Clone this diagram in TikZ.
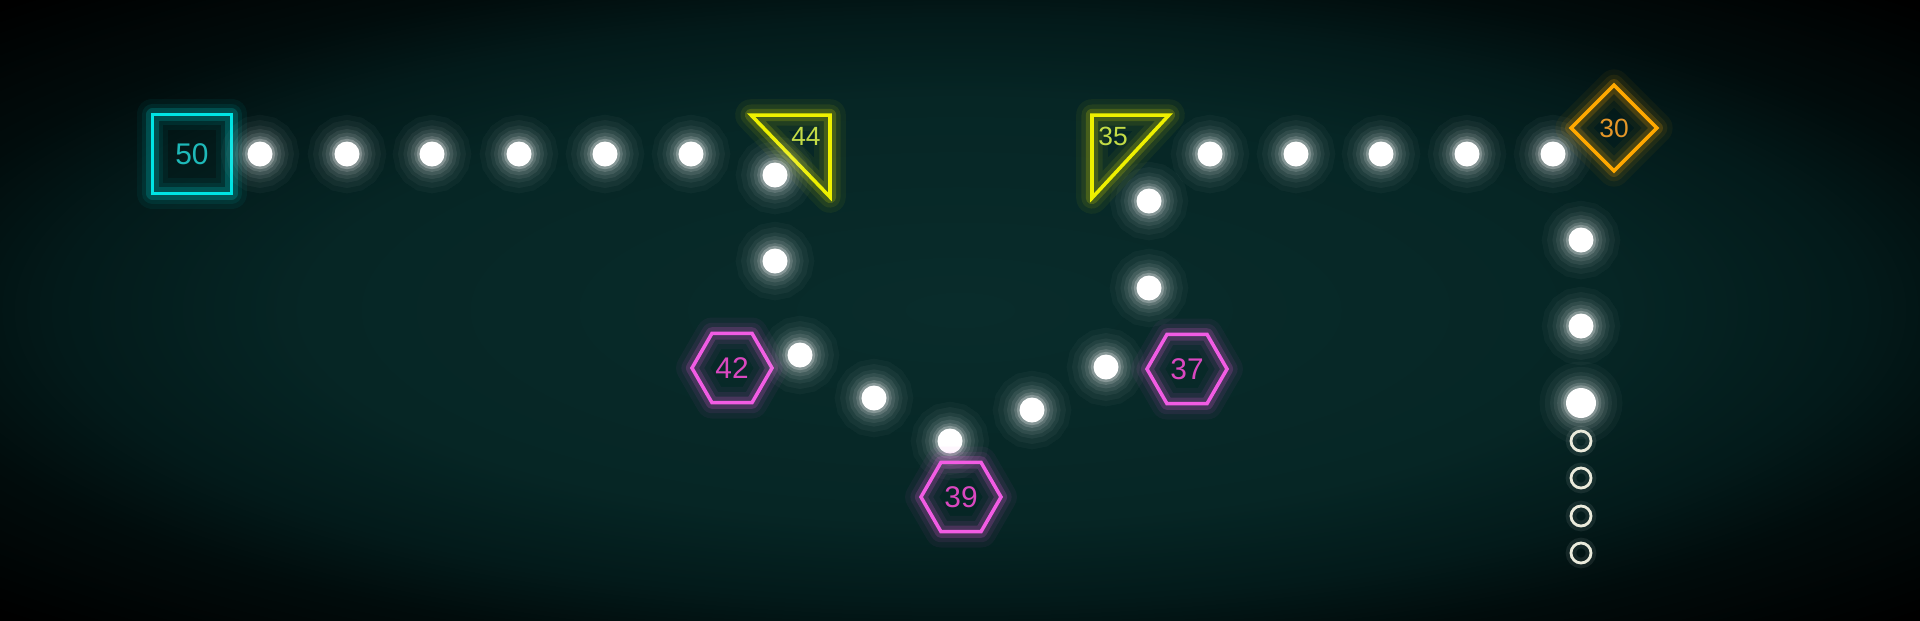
\documentclass[tikz,border=0pt]{standalone}
\usepackage{fontspec}
\setmainfont{Liberation Sans}
\usepackage{tikz}
\usetikzlibrary{shapes.geometric}
\definecolor{bgcore}{RGB}{9,44,43}
\definecolor{bgmid}{RGB}{6,38,37}
\definecolor{bgedge}{RGB}{3,26,26}
\definecolor{bgdark}{RGB}{1,12,12}
\definecolor{neoncyan}{RGB}{0,228,228}
\definecolor{textcyan}{RGB}{30,185,185}
\definecolor{neonyellow}{RGB}{238,240,0}
\definecolor{textyellow}{RGB}{195,220,70}
\definecolor{neonorange}{RGB}{255,168,0}
\definecolor{textorange}{RGB}{228,150,40}
\definecolor{neonpink}{RGB}{242,92,228}
\definecolor{textpink}{RGB}{218,72,192}
\definecolor{ringwhite}{RGB}{235,235,220}
\pgfdeclareradialshading{vignette}{\pgfpoint{0bp}{0bp}}{color(0bp)=(bgcore); color(17bp)=(bgmid); color(23.5bp)=(bgedge); color(28bp)=(bgdark); color(35bp)=(black); color(50bp)=(black)}
\tikzset{neon/.style={draw=#1, line width=1pt,
    preaction={draw=#1, line width=9pt, opacity=0.05, line join=round},
    preaction={draw=#1, line width=6pt, opacity=0.08, line join=round},
    preaction={draw=#1, line width=3.5pt, opacity=0.18, line join=round}},
  sqbox/.style={neon=neoncyan, text=textcyan, minimum size=0.79cm, inner sep=0pt, font=\fontsize{8.5}{10}\selectfont},
  hexbox/.style={regular polygon, regular polygon sides=6, neon=neonpink, text=textpink, minimum size=0.8cm, inner sep=0pt, font=\fontsize{8.5}{10}\selectfont},
  diabox/.style={diamond, neon=neonorange, text=textorange, minimum width=0.87cm, minimum height=0.87cm, inner sep=0pt, font=\fontsize{7.5}{9}\selectfont},
  tritext/.style={text=textyellow, inner sep=0pt, font=\fontsize{7.5}{9}\selectfont},
  glowdot/.style={circle, fill=white, minimum size=0.25cm, inner sep=0pt,
    preaction={draw=white, line width=15pt, opacity=0.03},
    preaction={draw=white, line width=12pt, opacity=0.04},
    preaction={draw=white, line width=9pt, opacity=0.05},
    preaction={draw=white, line width=7pt, opacity=0.07},
    preaction={draw=white, line width=5pt, opacity=0.09},
    preaction={draw=white, line width=3pt, opacity=0.14},
    preaction={draw=white, line width=1.5pt, opacity=0.25}},
  hollowdot/.style={circle, draw=ringwhite, line width=0.8pt, minimum size=0.2cm, inner sep=0pt,
    preaction={draw=white, line width=3pt, opacity=0.08}}}

\begin{document}
\begin{tikzpicture}[x=0.01cm, y=-0.01cm]
	\useasboundingbox (0,0) rectangle (1920,620);
	\shade[shading=vignette] (0,0) rectangle (1920,620);

	% start box and first row
	\node [sqbox] (s50) at (192, 154) {50};
	\node [glowdot] (d1) at (260, 154) {};
	\node [glowdot] (d2) at (347, 154) {};
	\node [glowdot] (d3) at (432, 154) {};
	\node [glowdot] (d4) at (519, 154) {};
	\node [glowdot] (d5) at (605, 154) {};
	\node [glowdot] (d6) at (691, 154) {};

	\draw [neon=neonyellow] (751, 115) -- (830, 115) -- (830, 197) -- cycle;
	\node [tritext] (t44) at (806, 136) {44};

	% down into the valley
	\node [glowdot] (d7) at (775, 175) {};
	\node [glowdot] (d8) at (775, 261) {};
	\node [hexbox] (h42) at (732, 368) {42};
	\node [glowdot] (d9) at (800, 355) {};
	\node [glowdot] (d10) at (874, 398) {};
	\node [glowdot] (d11) at (950, 441) {};
	\node [hexbox] (h39) at (961, 497) {39};
	\node [glowdot] (d12) at (1032, 410) {};
	\node [glowdot] (d13) at (1106, 367) {};
	\node [hexbox] (h37) at (1187, 369) {37};
	\node [glowdot] (d14) at (1149, 288) {};
	\node [glowdot] (d15) at (1149, 201) {};

	\draw [neon=neonyellow] (1092, 115) -- (1169, 115) -- (1092, 198) -- cycle;
	\node [tritext] (t35) at (1113, 136) {35};

	% second row
	\node [glowdot] (d16) at (1210, 154) {};
	\node [glowdot] (d17) at (1296, 154) {};
	\node [glowdot] (d18) at (1381, 154) {};
	\node [glowdot] (d19) at (1467, 154) {};
	\node [glowdot] (d20) at (1553, 154) {};
	\node [diabox] (m30) at (1614, 128) {30};

	% going down, last ones still empty
	\node [glowdot] (d21) at (1581, 240) {};
	\node [glowdot] (d22) at (1581, 326) {};
	\node [glowdot, minimum size=0.3cm] (d23) at (1581, 403) {};
	\node [hollowdot] (r1) at (1581, 441) {};
	\node [hollowdot] (r2) at (1581, 478) {};
	\node [hollowdot] (r3) at (1581, 516) {};
	\node [hollowdot] (r4) at (1581, 553) {};
\end{tikzpicture}
\end{document}
